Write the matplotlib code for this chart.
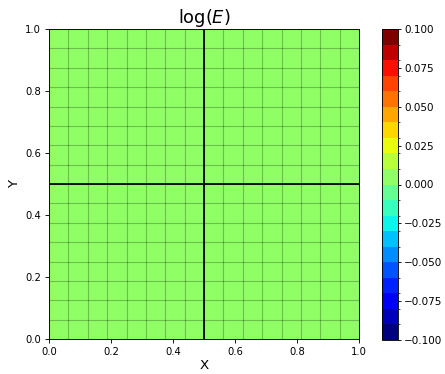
import numpy as np
import matplotlib
matplotlib.use("Agg")
import matplotlib.pyplot as plt
from matplotlib.colors import BoundaryNorm

# Data
x_edges = np.linspace(0.0, 1.0, 17)
y_edges = np.linspace(0.0, 1.0, 17)
log_E = np.zeros((16, 16))
levels = np.linspace(-0.1, 0.1, 21)
element_lines = [0.5]
cbar_ticks = [-0.1, -0.075, -0.05, -0.025, 0.0, 0.025, 0.05, 0.075, 0.1]
axis_ticks = [0.0, 0.2, 0.4, 0.6, 0.8, 1.0]

DPI = 80
fig = plt.figure(figsize=(445/DPI, 374/DPI), dpi=DPI)
ax = fig.add_axes([49/445, 1-339/374, 310/445, 310/374])
cax = fig.add_axes([382/445, 1-340/374, 16/445, 311/374])

cmap = plt.get_cmap('jet')
norm = BoundaryNorm(levels, cmap.N)
mesh = ax.pcolormesh(x_edges, y_edges, log_E, cmap=cmap, norm=norm,
                     edgecolors='none')
ax.vlines(x_edges, 0, 1, colors='black', alpha=0.25, lw=1.0)
ax.hlines(y_edges, 0, 1, colors='black', alpha=0.25, lw=1.0)
for v in element_lines:
    ax.axvline(v, color='black', lw=1.6)
    ax.axhline(v, color='black', lw=1.6)

ax.set_xlim(0, 1)
ax.set_ylim(0, 1)
ax.set_xticks(axis_ticks)
ax.set_yticks(axis_ticks)
ax.tick_params(labelsize=9)
ax.set_xlabel('X', fontsize=12, labelpad=2)
ax.set_ylabel('Y', fontsize=12)
ax.set_title('log($E$)', fontsize=16, pad=4)

cb = fig.colorbar(mesh, cax=cax, ticks=cbar_ticks)
cb.ax.set_yticklabels(['\u2212%.3f' % abs(t) if t < 0 else '%.3f' % t for t in cbar_ticks])
cb.ax.tick_params(labelsize=9.3, length=2.8, pad=2.8)

fig.savefig('out.png', dpi=DPI)
